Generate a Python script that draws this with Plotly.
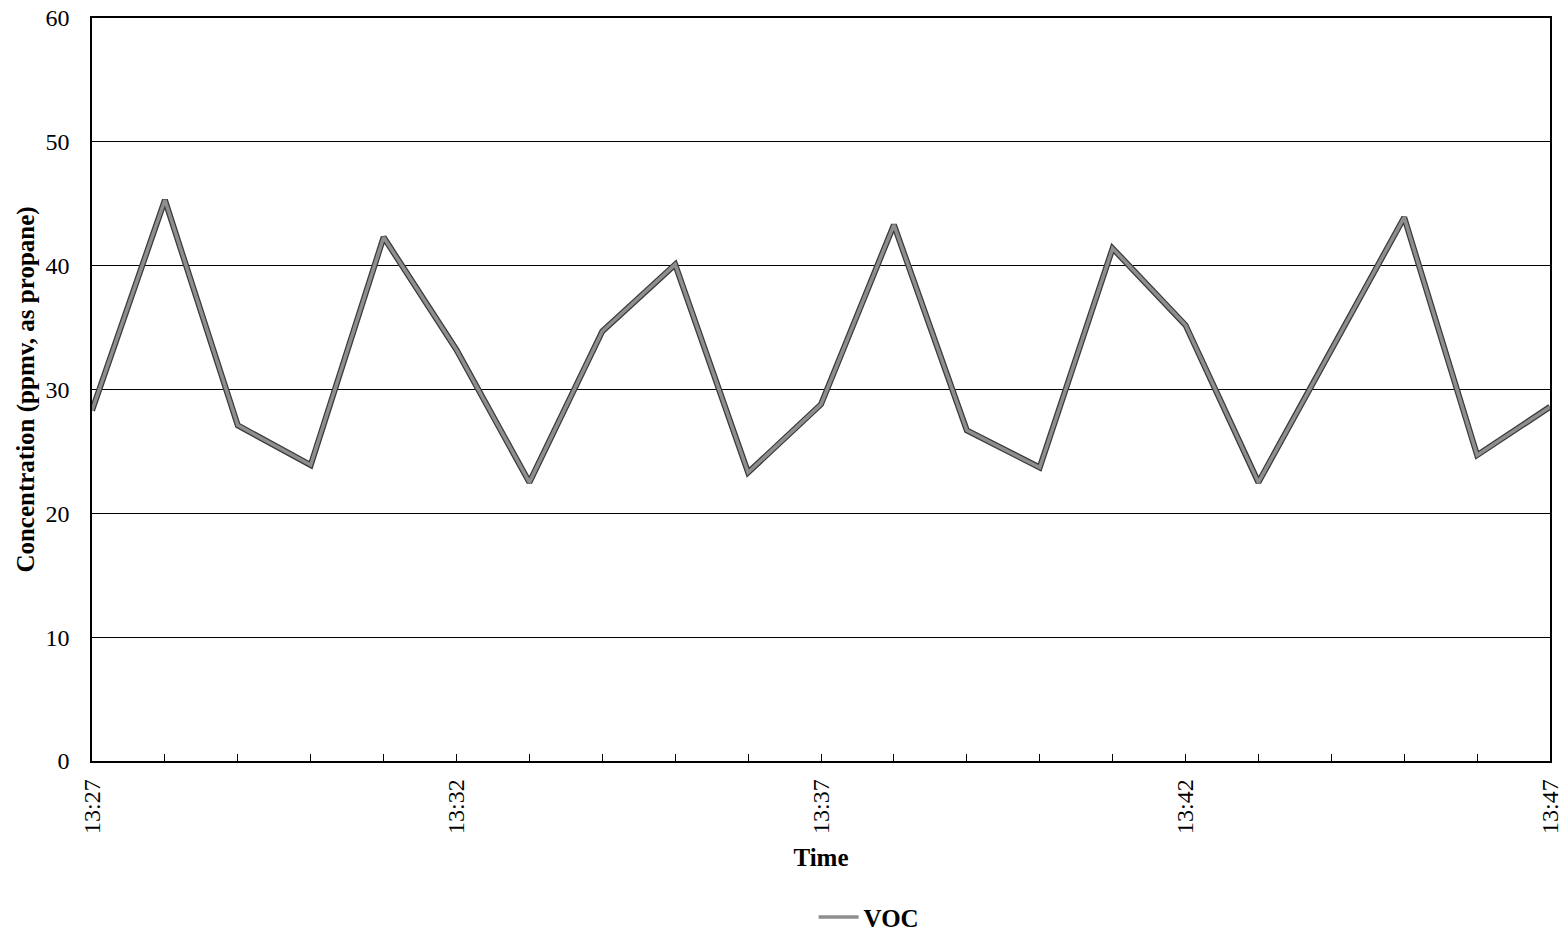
import plotly.graph_objects as go

times = ["13:27", "13:28", "13:29", "13:30", "13:31", "13:32", "13:33", "13:34",
         "13:35", "13:36", "13:37", "13:38", "13:39", "13:40", "13:41", "13:42",
         "13:43", "13:44", "13:45", "13:46", "13:47"]
voc = [28.3, 45.3, 27.1, 23.9, 42.3, 33.2, 22.5, 34.7,
       40.1, 23.3, 28.8, 43.3, 26.7, 23.7, 41.4, 35.2,
       22.5, 33.2, 43.9, 24.7, 28.6]
y_ticks = [0, 10, 20, 30, 40, 50, 60]

x = ["2000-01-01 " + t + ":00" for t in times]

FONT = "Liberation Serif, Times New Roman, serif"

fig = go.Figure()
fig.add_trace(go.Scatter(x=x, y=voc, mode="lines", showlegend=False, hoverinfo="skip",
                         line=dict(color="#3a3a3a", width=6)))
fig.add_trace(go.Scatter(x=x, y=voc, mode="lines", name="VOC",
                         line=dict(color="#8e8e8e", width=3.5)))

fig.update_layout(
    width=1568, height=935,
    margin=dict(l=92, r=18, t=18, b=174),
    plot_bgcolor="white", paper_bgcolor="white",
    font=dict(family=FONT, color="black", size=20),
    showlegend=True,
    legend=dict(orientation="h", x=0.533, xanchor="center",
                yref="container", y=0.019, yanchor="middle",
                font=dict(family=FONT, size=25, color="black", weight="bold"),
                itemwidth=40),
    xaxis=dict(
        type="date", range=[x[0], x[-1]], automargin=False,
        tickformat="%H:%M", dtick=300000, tick0=x[0],
        tickangle=-90, tickfont=dict(family=FONT, size=24), ticklabelstandoff=7,
        ticks="inside", ticklen=7, tickcolor="black",
        minor=dict(dtick=60000, ticks="inside", ticklen=7, tickcolor="black", showgrid=False),
        showgrid=False, showline=True, linecolor="black", linewidth=1.5, mirror=True,
        title=dict(text="Time", font=dict(family=FONT, size=25, weight="bold"), standoff=15),
        zeroline=False, ticklabeloverflow="allow",
    ),
    yaxis=dict(
        range=[0, 60], tickvals=y_ticks, ticks="", automargin=False,
        tickfont=dict(family=FONT, size=24), ticklabelstandoff=16,
        ticklabeloverflow="allow",
        showgrid=True, gridcolor="black", gridwidth=1.2,
        showline=True, linecolor="black", linewidth=1.5, mirror=True,
        title=dict(text="Concentration (ppmv, as propane)",
                   font=dict(family=FONT, size=25, weight="bold"), standoff=4),
        zeroline=False,
    ),
)

fig.write_html("out.html", config={"displayModeBar": False},
               post_script="document.body.style.margin='0';document.body.style.overflow='hidden';")
